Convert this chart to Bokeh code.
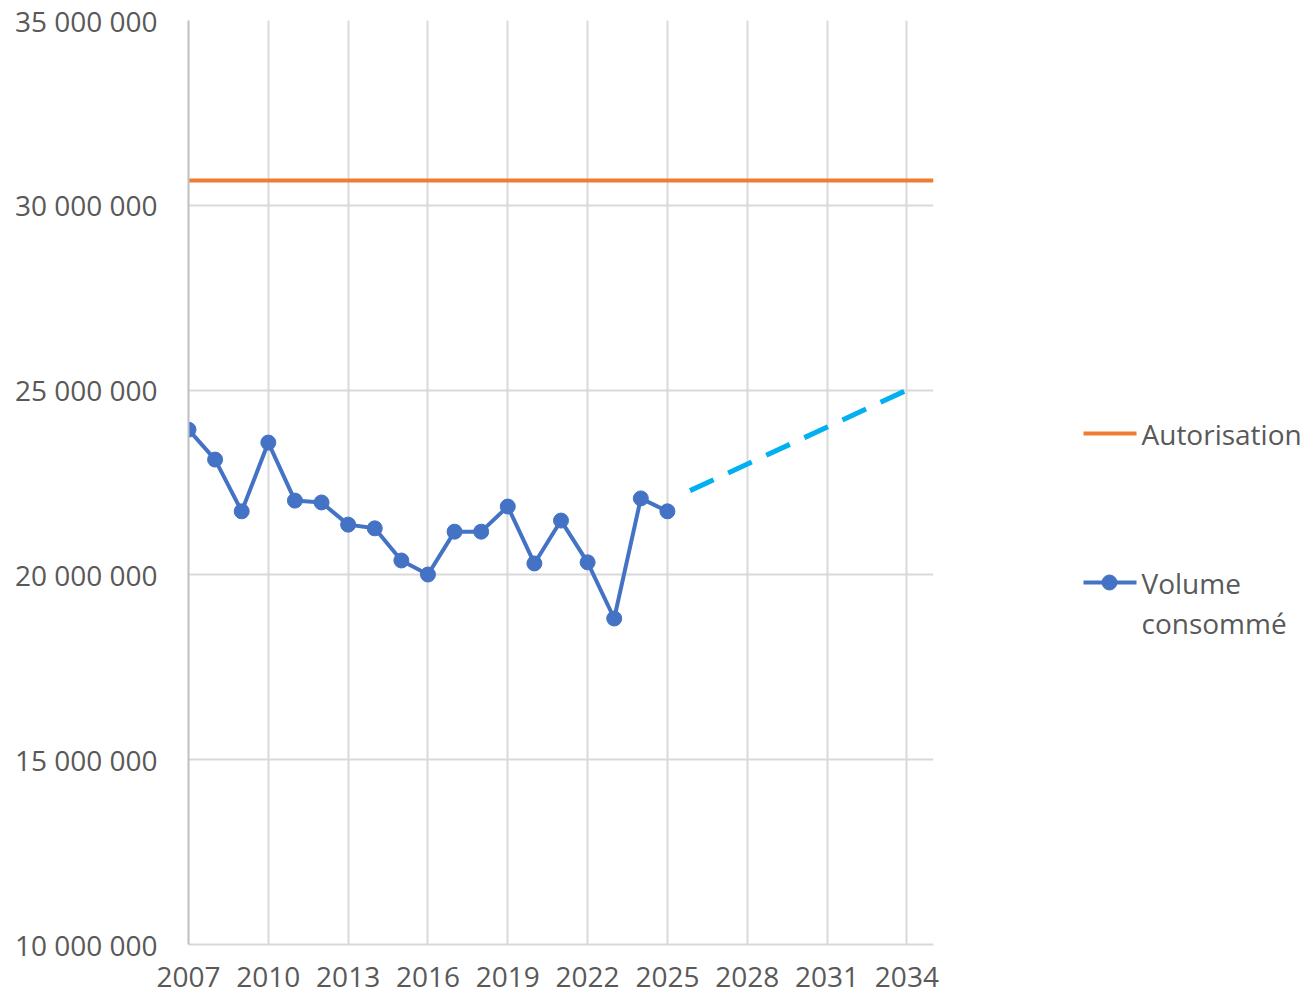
from bokeh.plotting import figure
from bokeh.layouts import row
from bokeh.models import Range1d, FixedTicker
from bokeh.core.properties import value
from bokeh.embed import file_html
from bokeh.resources import INLINE

# ---- data ----
years = list(range(2007, 2026))
volume = [23_930_000, 23_120_000, 21_720_000, 23_580_000, 22_010_000, 21_960_000,
          21_360_000, 21_260_000, 20_390_000, 20_010_000, 21_170_000, 21_170_000,
          21_850_000, 20_310_000, 21_470_000, 20_340_000, 18_820_000, 22_070_000,
          21_720_000]
autor_years = [2007, 2035]
autor_values = [30_670_000, 30_670_000]
proj_years = [2025.85, 2034]
proj_values = [22_280_000, 25_000_000]

x_ticks = list(range(2007, 2035, 3))
y_ticks = [10_000_000, 15_000_000, 20_000_000, 25_000_000, 30_000_000, 35_000_000]
y_tick_labels = ["10 000 000", "15 000 000", "20 000 000", "25 000 000", "30 000 000", "35 000 000"]
legend_labels = ["Autorisation", "Volume", "consommé"]

FONT = "Open Sans"
GREY = "#595959"
GRID = "#d9d9d9"
BLUE = "#4472C4"
ORANGE = "#ED7D31"
CYAN = "#00B0F0"

W_MAIN, H = 953, 997
TOP, BOTTOM = 20, 53

p = figure(width=W_MAIN, height=H, output_backend="svg", toolbar_location=None,
           x_range=Range1d(2007, 2035), y_range=Range1d(10_000_000, 35_000_000),
           min_border_left=188, min_border_right=20, min_border_top=TOP, min_border_bottom=BOTTOM)
p.outline_line_color = None

p.xaxis.ticker = FixedTicker(ticks=x_ticks)
p.yaxis.ticker = FixedTicker(ticks=y_ticks)
p.yaxis.major_label_overrides = {t: l for t, l in zip(y_ticks, y_tick_labels)}
p.xaxis.major_label_overrides = {t: str(t) for t in x_ticks}

for ax in (p.xaxis[0], p.yaxis[0]):
    ax.major_tick_out = 0
    ax.major_tick_in = 0
    ax.minor_tick_out = 0
    ax.minor_tick_in = 0
    ax.major_label_text_font = FONT
    ax.major_label_text_font_size = "28px"
    ax.major_label_text_color = GREY
    ax.axis_line_width = 2
p.xaxis.axis_line_color = GRID
p.yaxis.axis_line_color = "#bfbfbf"
p.yaxis.major_label_standoff = 31
p.xaxis.major_label_standoff = 22

p.xgrid.grid_line_color = GRID
p.ygrid.grid_line_color = GRID
p.xgrid.grid_line_width = 2
p.ygrid.grid_line_width = 2

p.line(autor_years, autor_values, line_color=ORANGE, line_width=4)
p.line(proj_years, proj_values, line_color=CYAN, line_width=5, line_dash="26 16")
p.line(years, volume, line_color=BLUE, line_width=4)
p.scatter(years, volume, marker="circle", size=15, fill_color=BLUE, line_color=BLUE)

# ---- legend panel (frame aligned with main frame: page y 20..944) ----
W_LEG = 1304 - W_MAIN
lg = figure(width=W_LEG, height=H, output_backend="svg", toolbar_location=None,
            x_range=Range1d(W_MAIN, W_MAIN + W_LEG), y_range=Range1d(H - BOTTOM, TOP),
            min_border=0, min_border_top=TOP, min_border_bottom=BOTTOM)
lg.axis.visible = False
lg.grid.visible = False
lg.outline_line_color = None

lg.line([1083, 1136], [433, 433], line_color=ORANGE, line_width=4)
lg.line([1083, 1136], [582, 582], line_color=BLUE, line_width=4)
lg.scatter([1109], [582], marker="circle", size=15, fill_color=BLUE, line_color=BLUE)
lg.text(x=[1141, 1141, 1141], y=[433, 582, 622], text=legend_labels,
        text_font=value(FONT), text_font_size="28px", text_color=GREY,
        text_baseline="middle", text_align="left")

layout = row(p, lg, spacing=0)
open("out.html", "w").write(file_html(layout, INLINE))
